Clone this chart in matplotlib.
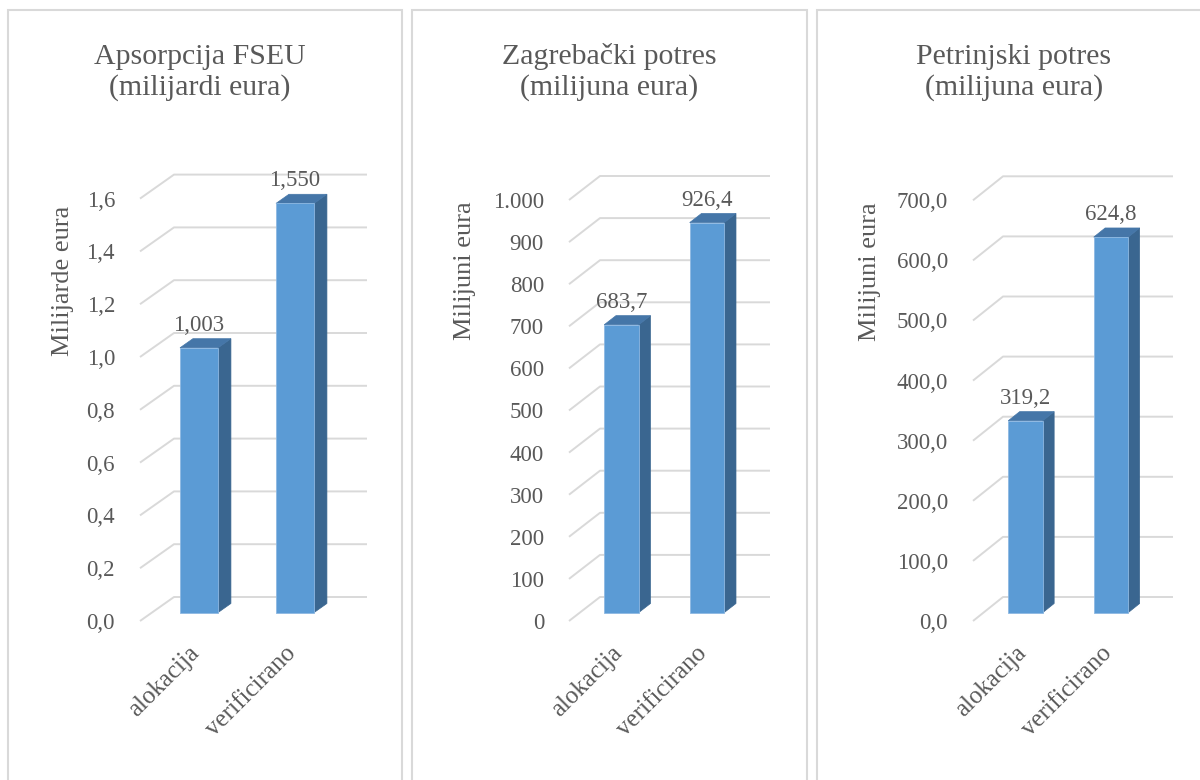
import matplotlib
matplotlib.use('Agg')
import matplotlib.pyplot as plt
from matplotlib.patches import Polygon, Rectangle

plt.rcParams['font.family'] = ['Liberation Serif', 'DejaVu Serif']

# podaci
kategorije = ['alokacija', 'verificirano']

naslovi = ['Apsorpcija FSEU\n(milijardi eura)',
           'Zagrebački potres\n(milijuna eura)',
           'Petrinjski potres\n(milijuna eura)']
y_oznake = ['Milijarde eura', 'Milijuni eura', 'Milijuni eura']

fseu = [1.003, 1.550]
zagreb = [683.7, 926.4]
petrinja = [319.2, 624.8]

fseu_ticks = [0, 0.2, 0.4, 0.6, 0.8, 1.0, 1.2, 1.4, 1.6]
fseu_tick_labels = ['0,0', '0,2', '0,4', '0,6', '0,8', '1,0', '1,2', '1,4', '1,6']
zagreb_ticks = [0, 100, 200, 300, 400, 500, 600, 700, 800, 900, 1000]
zagreb_tick_labels = ['0', '100', '200', '300', '400', '500', '600', '700', '800', '900', '1.000']
petrinja_ticks = [0, 100, 200, 300, 400, 500, 600, 700]
petrinja_tick_labels = ['0,0', '100,0', '200,0', '300,0', '400,0', '500,0', '600,0', '700,0']

fseu_value_labels = [f'{v:.3f}'.replace('.', ',') for v in fseu]
zagreb_value_labels = [f'{v:.1f}'.replace('.', ',') for v in zagreb]
petrinja_value_labels = [f'{v:.1f}'.replace('.', ',') for v in petrinja]

# boje
SIVA_TXT = '#595959'
SIVA_GRID = '#D9D9D9'
PREDNJA = '#5B9BD5'
BOK = '#3A6690'
VRH = '#4576A8'

W, H = 1200, 780
fig = plt.figure(figsize=(12, 7.8), dpi=100)


def fx(x):
    return x / W


def fy(y):
    return 1 - y / H


# okviri panela (px)
okviri = [(8, 402), (412, 807), (817, 1211)]
for x0, x1 in okviri:
    fig.patches.append(Rectangle((fx(x0), fy(820)), fx(x1 - x0), fy(10) - fy(820),
                                 transform=fig.transFigure, fill=False,
                                 edgecolor=SIVA_GRID, lw=1.5))

# raspored: lijevo, desno, px/jedinica, dubina dx, centar kat.0, razmak, sirina, naslov x, ylabel x, ylabel y
raspored = [
    dict(left=140, right=367, scale=264.0, dx=34, c0=187.1, sp=96.0, w=38.0, tx=200, lx=63, ly=281),
    dict(left=569, right=770, scale=0.421, dx=31, c0=610.6, sp=85.5, w=34.5, tx=609, lx=465, ly=271),
    dict(left=973, right=1173, scale=0.601, dx=30, c0=1015.0, sp=85.5, w=34.5, tx=1014, lx=870, ly=272),
]
Y0 = 621
DY = 24
TOP = 130
D1, D2 = 0.35, 0.73

serije = [fseu, zagreb, petrinja]
ticks_sve = [fseu_ticks, zagreb_ticks, petrinja_ticks]
tick_lab_sve = [fseu_tick_labels, zagreb_tick_labels, petrinja_tick_labels]
val_lab_sve = [fseu_value_labels, zagreb_value_labels, petrinja_value_labels]

for k in range(3):
    r = raspored[k]
    vals = serije[k]
    ax = fig.add_axes([fx(r['left']), fy(Y0), fx(r['right'] - r['left']), fy(TOP) - fy(Y0)])
    xmin = (r['left'] - r['c0']) / r['sp']
    xmax = (r['right'] - r['c0']) / r['sp']
    ax.set_xlim(xmin, xmax)
    ax.set_ylim(0, (Y0 - TOP) / r['scale'])
    ddx = r['dx'] / r['sp']
    ddy = DY / r['scale']

    def P(x, v, d):
        return (x + d * ddx, v + d * ddy)

    # mreza
    for t in ticks_sve[k]:
        a = P(xmin, t, 0)
        b = P(xmin, t, 1)
        ax.plot([a[0], b[0], xmax], [a[1], b[1], b[1]], color=SIVA_GRID, lw=1.4,
                zorder=1, solid_capstyle='butt', clip_on=False)

    # stupci
    w = r['w'] / r['sp']
    xs = list(range(len(vals)))
    ax.bar([x + D1 * ddx for x in xs], vals, width=w, bottom=D1 * ddy,
           color=PREDNJA, edgecolor='#8DB8E2', lw=0.6, zorder=4)
    for x, v in zip(xs, vals):
        bok = [P(x + w / 2, 0, D1), P(x + w / 2, 0, D2), P(x + w / 2, v, D2), P(x + w / 2, v, D1)]
        ax.add_patch(Polygon(bok, closed=True, facecolor=BOK, edgecolor=BOK, lw=0.5, zorder=3))
        vrh = [P(x - w / 2, v, D1), P(x + w / 2, v, D1), P(x + w / 2, v, D2), P(x - w / 2, v, D2)]
        ax.add_patch(Polygon(vrh, closed=True, facecolor=VRH, edgecolor=VRH, lw=0.5, zorder=3))

    # oznake vrijednosti
    for x, v, s in zip(xs, vals, val_lab_sve[k]):
        px, py = P(x, v, D1)
        ax.text(px, py + 17 / r['scale'], s, ha='center', va='baseline',
                fontsize=16.5, color=SIVA_TXT, zorder=5)

    # kategorije
    for x, s in zip(xs, kategorije):
        px, _ = P(x, 0, D1)
        ax.text(px - 3 / r['sp'], -29 / r['scale'], s, rotation=45, rotation_mode='anchor',
                ha='right', va='center', fontsize=18, color=SIVA_TXT, clip_on=False)

    ax.set_yticks(ticks_sve[k])
    ax.set_yticklabels(tick_lab_sve[k])
    ax.tick_params(axis='y', length=0, pad=18, labelsize=16.5, labelcolor=SIVA_TXT)
    ax.set_xticks([])
    for sp in ax.spines.values():
        sp.set_visible(False)
    ax.patch.set_alpha(0)

    fig.text(fx(r['lx']), fy(r['ly']), y_oznake[k], rotation=90, ha='center', va='center',
             fontsize=19, color=SIVA_TXT)
    fig.text(fx(r['tx']), fy(95), naslovi[k], ha='center', va='baseline',
             fontsize=21.5, color=SIVA_TXT, linespacing=1.2)

fig.savefig('out.png', dpi=100)
